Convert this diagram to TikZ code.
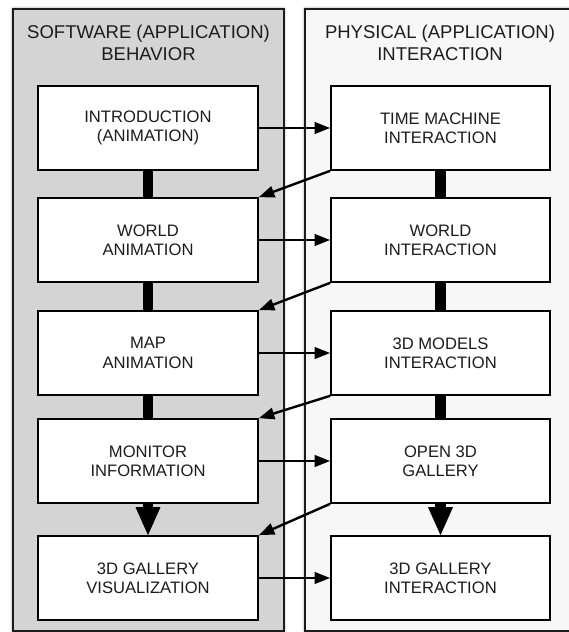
\documentclass[tikz,border=0pt]{standalone}
\usepackage{fontspec}
\setmainfont{Liberation Sans}
\usetikzlibrary{arrows.meta,shadows.blur}
\definecolor{panelL}{HTML}{D4D4D4}
\definecolor{panelR}{HTML}{F7F7F7}
\definecolor{ink}{HTML}{1C1C1C}
\begin{document}
\begin{tikzpicture}[x=1pt,y=-1pt,
  panel/.style={draw=ink, line width=2pt,
    blur shadow={shadow xshift=0pt, shadow yshift=0pt, shadow blur radius=2.5pt, shadow opacity=45}},
  paneltitle/.style={align=center, text=ink, font=\fontsize{18.5}{21.7}\selectfont, inner sep=0pt},
  stepbox/.style={draw=black, line width=1.7pt, fill=white, text=ink, align=center,
    minimum height=84pt, inner sep=0pt, font=\fontsize{16.6}{19.3}\selectfont},
  lbox/.style={stepbox, minimum width=220pt},
  rbox/.style={stepbox, minimum width=219pt},
  bar/.style={line width=10.5pt, draw=black, line cap=butt},
  flow/.style={line width=2.4pt, draw=black, -{Triangle[length=15.5pt,width=11.5pt]}}
]
\useasboundingbox (0,0) rectangle (568,632);

% panels
\draw[panel, fill=panelL] (12.5,8.5) rectangle (284,630.5);
\draw[panel, fill=panelR] (304.5,8.5) rectangle (580,630.5);

\node[paneltitle] (tl) at (148.5,43) {SOFTWARE (APPLICATION)\\BEHAVIOR};
\node[paneltitle] (tr) at (440,43) {PHYSICAL (APPLICATION)\\INTERACTION};

% left column
\node[lbox] (l1) at (148,128) {INTRODUCTION\\(ANIMATION)};
\node[lbox] (l2) at (148,240) {WORLD\\ANIMATION};
\node[lbox] (l3) at (148,353) {MAP\\ANIMATION};
\node[lbox] (l4) at (148,461) {MONITOR\\INFORMATION};
\node[lbox] (l5) at (148,578) {3D GALLERY\\VISUALIZATION};

% right column
\node[rbox] (r1) at (440.5,128) {TIME MACHINE\\INTERACTION};
\node[rbox] (r2) at (440.5,240) {WORLD\\INTERACTION};
\node[rbox] (r3) at (440.5,353) {3D MODELS\\INTERACTION};
\node[rbox] (r4) at (440.5,461) {OPEN 3D\\GALLERY};
\node[rbox] (r5) at (440.5,578) {3D GALLERY\\INTERACTION};

% vertical bars
\draw[bar] (l1.south) -- (l2.north);
\draw[bar] (l2.south) -- (l3.north);
\draw[bar] (l3.south) -- (l4.north);
\draw[bar] (l4.south) -- ([yshift=27pt]l5.north);
\fill[black] (l5.north) -- ++(-12.5,-28) -- ++(25,0) -- cycle;

\draw[bar] (r1.south) -- (r2.north);
\draw[bar] (r2.south) -- (r3.north);
\draw[bar] (r3.south) -- (r4.north);
\draw[bar] (r4.south) -- ([yshift=27pt]r5.north);
\fill[black] (r5.north) -- ++(-12.5,-28) -- ++(25,0) -- cycle;

% horizontal arrows
\draw[flow] (l1.east) -- (r1.west);
\draw[flow] (l2.east) -- (r2.west);
\draw[flow] (l3.east) -- (r3.west);
\draw[flow] (l4.east) -- (r4.west);
\draw[flow] (l5.east) -- (r5.west);

% diagonal arrows
\draw[flow] (r1.south west) -- (l2.north east);
\draw[flow] (r2.south west) -- (l3.north east);
\draw[flow] (r3.south west) -- (l4.north east);
\draw[flow] (r4.south west) -- (l5.north east);
\end{tikzpicture}
\end{document}
